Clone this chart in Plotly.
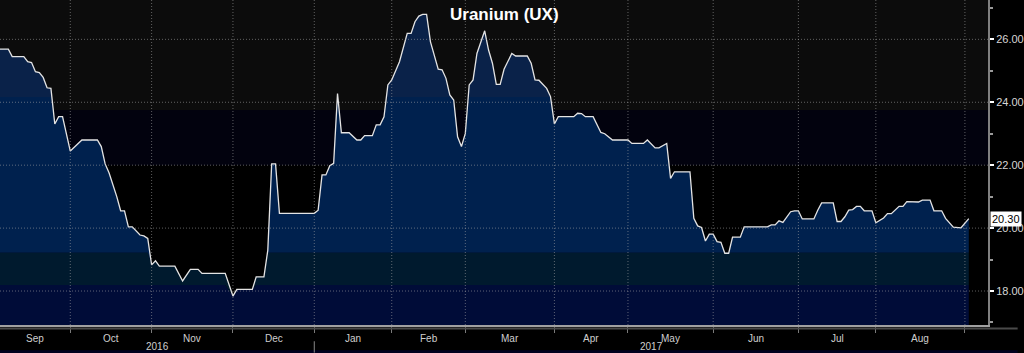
import numpy as np
import pandas as pd
import plotly.graph_objects as go

# ---------------- data ----------------
holidays = ["2016-09-05", "2016-11-24", "2016-12-26", "2017-01-02", "2017-01-16",
            "2017-02-20", "2017-04-14", "2017-05-29", "2017-07-04", "2017-09-04"]

dates = [
    "2016-09-06", "2016-09-09", "2016-09-12", "2016-09-15", "2016-09-16", "2016-09-19", "2016-09-20",
    "2016-09-21", "2016-09-22", "2016-09-23", "2016-09-26", "2016-09-27", "2016-09-28", "2016-09-29",
    "2016-10-03", "2016-10-05", "2016-10-06", "2016-10-12", "2016-10-13", "2016-10-14", "2016-10-17",
    "2016-10-19", "2016-10-20", "2016-10-21", "2016-10-24", "2016-10-25", "2016-10-27", "2016-10-28",
    "2016-10-31",
    "2016-11-01", "2016-11-02", "2016-11-03", "2016-11-09", "2016-11-11", "2016-11-15", "2016-11-17",
    "2016-11-18", "2016-11-29",
    "2016-12-01", "2016-12-02", "2016-12-08", "2016-12-09", "2016-12-13", "2016-12-14", "2016-12-15",
    "2016-12-16", "2016-12-19",
    "2017-01-03", "2017-01-04", "2017-01-05", "2017-01-06", "2017-01-09", "2017-01-10", "2017-01-11",
    "2017-01-12", "2017-01-17", "2017-01-18", "2017-01-19", "2017-01-20", "2017-01-23", "2017-01-25",
    "2017-01-26", "2017-01-27", "2017-01-30", "2017-01-31",
    "2017-02-01", "2017-02-03", "2017-02-07", "2017-02-08", "2017-02-09", "2017-02-10", "2017-02-13",
    "2017-02-14", "2017-02-15", "2017-02-17", "2017-02-21", "2017-02-22", "2017-02-23", "2017-02-24",
    "2017-02-27", "2017-02-28",
    "2017-03-01", "2017-03-02", "2017-03-03", "2017-03-06", "2017-03-08", "2017-03-09", "2017-03-10",
    "2017-03-13", "2017-03-14", "2017-03-15", "2017-03-17", "2017-03-20", "2017-03-23", "2017-03-24",
    "2017-03-27", "2017-03-28", "2017-03-30", "2017-03-31",
    "2017-04-03", "2017-04-04", "2017-04-10", "2017-04-11", "2017-04-12", "2017-04-13", "2017-04-18",
    "2017-04-20", "2017-04-21", "2017-04-25",
    "2017-05-01", "2017-05-02", "2017-05-05", "2017-05-08", "2017-05-10", "2017-05-11", "2017-05-15",
    "2017-05-16", "2017-05-17", "2017-05-23", "2017-05-24", "2017-05-25", "2017-05-26", "2017-05-30",
    "2017-05-31",
    "2017-06-01", "2017-06-02", "2017-06-05", "2017-06-06", "2017-06-07", "2017-06-08", "2017-06-12",
    "2017-06-13", "2017-06-21", "2017-06-22", "2017-06-23", "2017-06-26", "2017-06-27", "2017-06-28",
    "2017-06-29", "2017-06-30",
    "2017-07-03", "2017-07-05", "2017-07-10", "2017-07-11", "2017-07-12", "2017-07-17", "2017-07-18",
    "2017-07-19", "2017-07-20", "2017-07-21", "2017-07-24", "2017-07-25", "2017-07-26", "2017-07-27",
    "2017-07-31",
    "2017-08-01", "2017-08-02", "2017-08-03", "2017-08-04", "2017-08-07", "2017-08-09", "2017-08-10",
    "2017-08-11", "2017-08-16", "2017-08-17", "2017-08-21", "2017-08-22", "2017-08-24", "2017-08-25",
    "2017-08-28", "2017-08-29", "2017-08-31",
    "2017-09-01", "2017-09-05",
]

prices = [
    25.69, 25.69, 25.45, 25.45, 25.29, 25.26, 24.97, 24.94, 24.79, 24.46, 24.44, 23.31, 23.54, 23.54,
    22.45, 22.69, 22.80, 22.80, 22.59, 22.04, 21.76, 21.00, 20.55, 20.55, 20.04, 20.04, 19.78, 19.75, 19.67,
    18.83, 18.96, 18.79, 18.79, 18.32, 18.69, 18.69, 18.56, 18.56,
    17.84, 18.05, 18.05, 18.45, 18.45, 19.30, 22.04, 22.04, 20.47,
    20.47, 20.57, 21.69, 21.69, 21.98, 22.06, 24.28, 23.03, 23.03, 22.93, 22.80, 22.80, 22.94, 22.94,
    23.28, 23.28, 23.54, 24.55,
    24.71, 25.29, 26.19, 26.19, 26.56, 26.74, 26.79, 26.79, 25.92, 25.05, 25.03, 24.76, 24.23, 24.07,
    22.90, 22.59,
    23.01, 24.55, 24.71, 25.55, 26.27, 25.66, 25.24, 24.57, 24.57, 25.05, 25.55, 25.47, 25.47, 25.24,
    24.71, 24.70, 24.44, 24.18,
    23.31, 23.54, 23.54, 23.65, 23.64, 23.54, 23.54, 23.04, 23.00, 22.80,
    22.80, 22.69, 22.69, 22.80, 22.55, 22.55, 22.69, 21.58, 21.79, 21.79, 20.31, 20.07, 20.02, 19.59, 19.81,
    19.81, 19.57, 19.55, 19.20, 19.20, 19.71, 19.71, 20.04, 20.04, 20.10, 20.10, 20.23, 20.18, 20.35,
    20.52, 20.55,
    20.55, 20.29, 20.29, 20.57, 20.80, 20.80, 20.21, 20.21, 20.36, 20.57, 20.59, 20.69, 20.69, 20.55, 20.55,
    20.17, 20.24, 20.32, 20.46, 20.46, 20.69, 20.69, 20.84, 20.83, 20.89, 20.89, 20.55, 20.55, 20.31,
    20.17, 20.03, 20.01,
    20.17, 20.30,
]

y_ticks = [18, 20, 22, 24, 26]
title_text = "Uranium (UX)"

# ---------------- trading-day scale ----------------
days = pd.bdate_range("2016-09-01", "2017-09-29", freq="C", holidays=holidays)
xi = days.get_indexer(pd.to_datetime(dates)).astype(float)
v = np.array(prices)

X0, X1 = 2.85, 257.96
Y0, Y1 = 16.92, 27.25

months = pd.Series(np.arange(len(days)), index=days)
month_first = months.groupby([days.year, days.month]).min()
month_starts = [int(i) for i in month_first.values if X0 < i < X1]
month_dates = [days[i] for i in month_starts]

# ---------------- figure ----------------
fig = go.Figure()

band_levels = [18.19, 19.22, 24.17]
band_colors = ["#000c38", "#001a2e", "#00214e", "#0a2249"]

fig.add_trace(go.Scatter(x=xi, y=np.minimum(v, band_levels[0]), mode="lines",
                         line=dict(width=0), fill="tozeroy", fillcolor=band_colors[0],
                         hoverinfo="skip", showlegend=False))
fig.add_trace(go.Scatter(x=xi, y=np.minimum(v, band_levels[1]), mode="lines",
                         line=dict(width=0), fill="tonexty", fillcolor=band_colors[1],
                         hoverinfo="skip", showlegend=False))
fig.add_trace(go.Scatter(x=xi, y=np.minimum(v, band_levels[2]), mode="lines",
                         line=dict(width=0), fill="tonexty", fillcolor=band_colors[2],
                         hoverinfo="skip", showlegend=False))
fig.add_trace(go.Scatter(x=xi, y=v, mode="lines",
                         line=dict(width=1.3, color="#e4e4e4"), fill="tonexty",
                         fillcolor=band_colors[3], showlegend=False))

grid_line = dict(color="rgba(170,170,170,0.55)", width=1, dash="1px,2px")

shapes = []
# background bands
shapes.append(dict(type="rect", xref="paper", x0=0, x1=1, yref="y", y0=23.75, y1=Y1 + 1,
                   fillcolor="#0c0c0c", line=dict(width=0), layer="below"))
shapes.append(dict(type="rect", xref="paper", x0=0, x1=1, yref="y", y0=22.0, y1=23.75,
                   fillcolor="#02020e", line=dict(width=0), layer="below"))
# grid lines (dotted, above fills)
for t in y_ticks:
    shapes.append(dict(type="line", xref="paper", x0=0, x1=1, yref="y", y0=t, y1=t,
                       line=grid_line, layer="above"))
for m in month_starts:
    shapes.append(dict(type="line", xref="x", x0=m, x1=m, yref="paper", y0=0, y1=1,
                       line=grid_line, layer="above"))
# secondary dark axis line below main axis line
shapes.append(dict(type="line", xref="paper", x0=0, x1=1.03, yref="paper", y0=-0.0105, y1=-0.0105,
                   line=dict(color="#4a4a4a", width=2)))
# bottom strip
shapes.append(dict(type="rect", xref="paper", x0=0, x1=1.03, yref="paper", y0=-0.0862, y1=-0.078,
                   fillcolor="#00001f", line=dict(width=0), layer="below"))
# year separator
jan_idx = [m for m, d in zip(month_starts, month_dates) if d.month == 1][0]
shapes.append(dict(type="line", xref="x", x0=jan_idx, x1=jan_idx, yref="paper", y0=-0.05, y1=-0.085,
                   line=dict(color="#888888", width=1)))

annotations = []
label_font = dict(family="Liberation Sans, Arial, sans-serif", size=10, color="#cfcfcf")
bounds = [X0] + month_starts + [X1]
first_dates = [days[int(np.ceil(X0))]] + month_dates
for a, b, d in zip(bounds[:-1], bounds[1:], first_dates):
    if b - a < 10:
        continue
    annotations.append(dict(x=(a + b) / 2, y=-0.04, xref="x", yref="paper", text=d.strftime("%b"),
                            showarrow=False, font=label_font, yanchor="middle"))
annotations.append(dict(x=(X0 + jan_idx) / 2, y=-0.067, xref="x", yref="paper", text=str(days[jan_idx].year - 1),
                        showarrow=False, font=label_font, yanchor="middle"))
annotations.append(dict(x=(jan_idx + X1) / 2, y=-0.067, xref="x", yref="paper", text=str(days[jan_idx].year),
                        showarrow=False, font=label_font, yanchor="middle"))
# last value tag
annotations.append(dict(x=1, xref="paper", xanchor="left", xshift=2, y=v[-1], yref="y",
                        text=f"{v[-1]:.2f}", showarrow=False, bgcolor="#ffffff",
                        font=dict(family="Liberation Sans, Arial, sans-serif", size=11, color="#000000"),
                        borderpad=1))
# title
annotations.append(dict(x=0.511, y=0.955, xref="paper", yref="paper", text=f"<b>{title_text}</b>",
                        showarrow=False, yanchor="middle",
                        font=dict(family="Liberation Sans, Arial, sans-serif", size=17, color="#ffffff")))

fig.update_layout(
    width=1024, height=353, autosize=False,
    margin=dict(l=0, r=26, t=0, b=28),
    paper_bgcolor="#000000", plot_bgcolor="#000000",
    showlegend=False,
    shapes=shapes, annotations=annotations,
    xaxis=dict(range=[X0, X1], tickvals=month_starts, ticktext=[""] * len(month_starts),
               showgrid=False, zeroline=False, ticks="outside", ticklen=6, tickcolor="#7a7a7a",
               showline=True, linecolor="#a0a0a0", linewidth=2, fixedrange=True),
    yaxis=dict(range=[Y0, Y1], side="right", tickvals=y_ticks, tickformat=".2f",
               showgrid=False, zeroline=False, ticks="outside", ticklen=4, tickcolor="#ffffff",
               tickwidth=2, showline=True, linecolor="#808080", linewidth=2,
               tickfont=dict(family="Liberation Sans, Arial, sans-serif", size=11, color="#d6d6d6"),
               minor=dict(dtick=1, tick0=17, ticks="outside", ticklen=3, tickcolor="#9a9a9a", showgrid=False),
               fixedrange=True),
)

fig.write_html("out.html")
